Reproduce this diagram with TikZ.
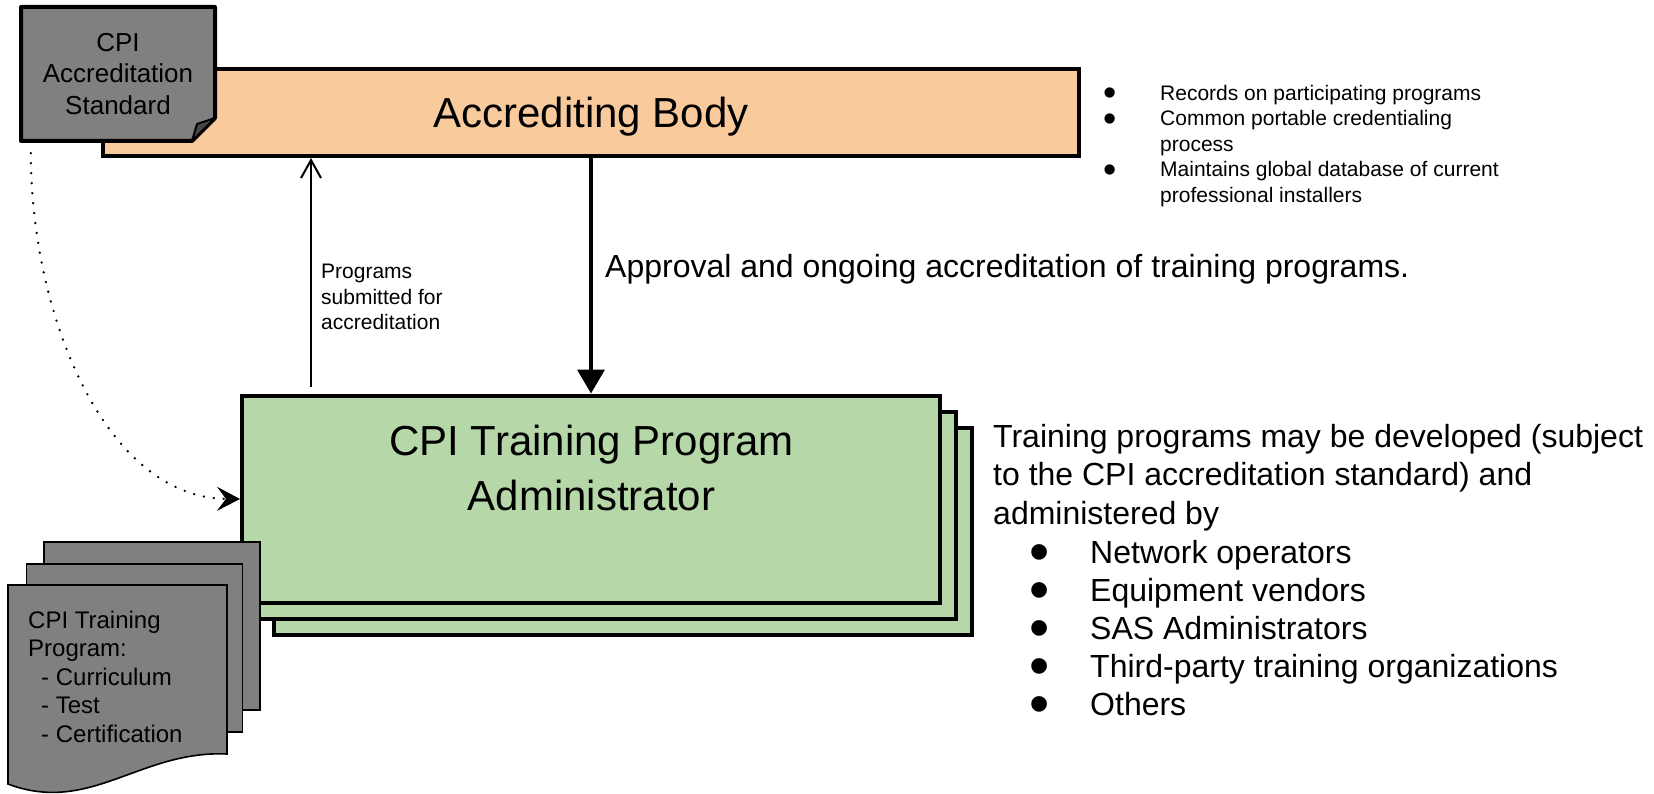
\documentclass[tikz,border=0pt]{standalone}
\usepackage{fontspec}
\setmainfont{Liberation Sans}
\usepackage{tikz}
\usetikzlibrary{arrows.meta}

\definecolor{peche}{HTML}{F9CB9C}
\definecolor{vert}{HTML}{B6D7A8}
\definecolor{gris}{HTML}{808080}

\newcommand{\puce}{\smash{\raisebox{-0.27em}{\scalebox{1.8}{\textbullet}}}}

\tikzstyle{bloc} = [rectangle, draw=black, line width=4pt, inner sep=0pt]
\tikzstyle{page} = [rectangle, draw=black, line width=1.6pt, fill=gris, minimum width=216pt, minimum height=168pt]
\tikzstyle{texte} = [inner sep=0pt, align=left]

\begin{document}
\begin{tikzpicture}[x=1pt, y=-1pt]

        \useasboundingbox (0,0) rectangle (1654,794);

        \node (acc) [bloc, fill=peche, minimum width=976pt, minimum height=87pt, text depth=0pt, font=\fontsize{42}{50}\selectfont] at (591,112.5) {Accrediting Body};

        \draw[line width=4pt, line join=round, fill=gris] (21,7) -- (215,7) -- (215,118) -- (192,141) -- (21,141) -- cycle;
        \draw[line width=2pt, line join=round, fill=gris!55!black] (192,141) -- (197,124) -- (215,118) -- cycle;
        \node (std) [minimum width=194pt, minimum height=134pt, align=center, font=\fontsize{26}{31.3}\selectfont] at (118,74) {CPI\\Accreditation\\Standard};

        \node (adm3) [bloc, fill=vert, minimum width=698pt, minimum height=207pt] at (623,531) {};
        \node (adm2) [bloc, fill=vert, minimum width=698pt, minimum height=207pt] at (607,515) {};
        \node (adm) [bloc, fill=vert, minimum width=698pt, minimum height=207pt] at (591,499) {};
        \node (admtxt) [texte, align=center, anchor=north, font=\fontsize{42}{55}\selectfont] at (591.5,424.5) {CPI Training Program\\Administrator};

        \node (doc3) [page] at (152,626) {};
        \node (doc2) [page] at (134.5,648) {};
        \draw[line width=1.6pt, fill=gris] (8,585) -- (227,585) -- (227,754) .. controls (140,750) and (90,815) .. (8,784) -- cycle;
        \node (doctxt) [texte, anchor=north west, font=\fontsize{24}{28.5}\selectfont] at (28,610.5) {CPI Training\\Program:\\\hspace*{13pt}- Curriculum\\\hspace*{13pt}- Test\\\hspace*{13pt}- Certification};

        \draw[line width=2pt, -{Straight Barb[length=18pt, width=20pt]}, shorten <=7pt] ([xshift=71pt]adm.north west) -- ([xshift=71pt]adm.north west |- acc.south);
        \node (sub) [texte, anchor=north west, font=\fontsize{21}{25.5}\selectfont] at (321,264) {Programs\\submitted for\\accreditation};

        \draw[line width=4pt, -{Triangle[length=24pt, width=27pt]}] (acc) -- (adm);
        \node (appr) [texte, anchor=base west, font=\fontsize{32}{38}\selectfont] at (605,278) {Approval and ongoing accreditation of training programs.};

        \draw[line width=2.6pt, line cap=round, dash pattern=on 0pt off 10pt, -{Stealth[length=23pt, width=24pt, inset=9pt]}] ([xshift=10pt, yshift=-12pt]std.south west) .. controls (31,315) and (105,498) .. (adm.west);

        \node (rec) [texte, anchor=north west, font=\fontsize{21}{25.5}\selectfont] at (1103,82) {\begin{tabular}{@{}p{57pt}@{}l@{}}
                \puce & Records on participating programs\\
                \puce & Common portable credentialing\\
                & process\\
                \puce & Maintains global database of current\\
                & professional installers
        \end{tabular}};

        \node (dev) [texte, anchor=north west, font=\fontsize{32}{38.5}\selectfont] at (993,424) {Training programs may be developed (subject\\to the CPI accreditation standard) and\\administered by};

        \node (who) [texte, anchor=north west, font=\fontsize{32}{38}\selectfont] at (1029.5,536.4) {\begin{tabular}{@{}p{60.5pt}@{}l@{}}
                \puce & Network operators\\
                \puce & Equipment vendors\\
                \puce & SAS Administrators\\
                \puce & Third-party training organizations\\
                \puce & Others
        \end{tabular}};

\end{tikzpicture}
\end{document}
